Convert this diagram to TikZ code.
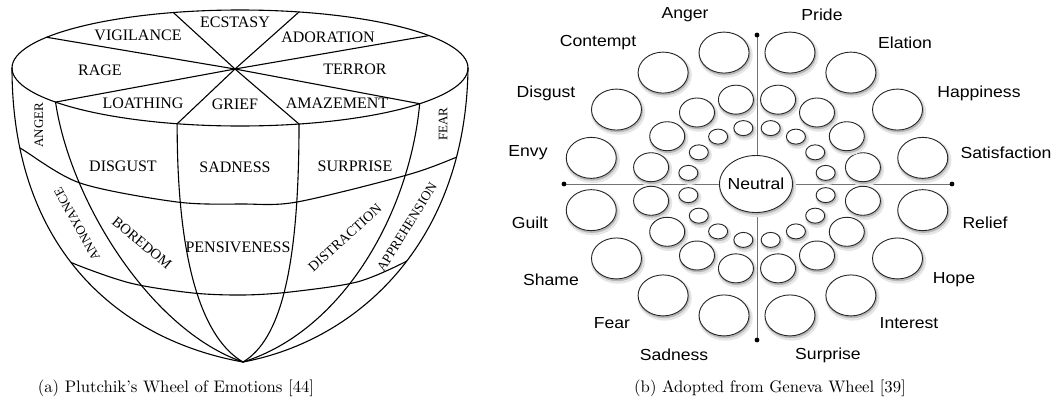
\documentclass[tikz,border=0pt]{standalone}
\usepackage{fontspec}
\usepackage{graphicx}
\newfontfamily\lserif{Liberation Serif}
\newfontfamily\lsans{Liberation Sans}
\newcommand{\sx}[1]{\scalebox{1.1}[1]{#1}}
\newcommand{\capt}[1]{\scalebox{1.67}{\fontsize{10}{12}\selectfont #1}}
\newcommand{\bub}[4]{%
  \fill[black!10] ({#1+1.5},{#2+2.5}) ellipse [x radius=#3+2.2, y radius=#4+2.2];
  \fill[black!28] ({#1+0.8},{#2+1.6}) ellipse [x radius=#3+0.7, y radius=#4+0.7];
  \filldraw[fill=white, draw=black!85, line width=0.9pt] (#1,#2) ellipse [x radius=#3, y radius=#4];}
\begin{document}
\begin{tikzpicture}[x=1pt,y=-1pt,line cap=round,line join=round,
  rim/.style={line width=1.1pt,black},
  lab/.style={font=\lserif\fontsize{16}{16}\selectfont,inner sep=0pt},
  rlab/.style={font=\lsans\fontsize{16}{18}\selectfont,inner sep=0pt},
  axisline/.style={draw=black!55,line width=0.9pt},
  captext/.style={inner sep=0pt}]
\useasboundingbox (0,0) rectangle (1052,410);
\fill[white] (0,0) rectangle (1052,410);

%% ---------------- left: Plutchik ----------------
\coordinate (hub) at (235,69);
\coordinate (bot) at (243,362);
\draw[rim] (240,68) ellipse [x radius=228, y radius=58];
\foreach \t in {34,75,107,148,216,254,285,322}
  \draw[rim] (hub) -- ({240+228*cos(\t)},{68-58*sin(\t)});
\coordinate (pL) at (12,68);
\coordinate (pR) at (468,68);
\coordinate (p216) at ({240+228*cos(216)},{68-58*sin(216)});
\coordinate (p254) at ({240+228*cos(254)},{68-58*sin(254)});
\coordinate (p285) at ({240+228*cos(285)},{68-58*sin(285)});
\coordinate (p322) at ({240+228*cos(322)},{68-58*sin(322)});
\draw[rim] (pL) .. controls (12,250) and (120,340) .. (bot);
\draw[rim] (p216) .. controls (70,200) and (150,330) .. (bot);
\draw[rim] (p254) .. controls (177,270) and (205,340) .. (bot);
\draw[rim] (p285) .. controls (299,270) and (280,340) .. (bot);
\draw[rim] (p322) .. controls (410,210) and (345,330) .. (bot);
\draw[rim] (pR) .. controls (466,240) and (360,340) .. (bot);
\begin{scope}
  \clip (pL) .. controls (12,250) and (120,340) .. (bot) .. controls (360,340) and (466,240) .. (pR) -- (470,0) -- (10,0) -- cycle;
  \draw[rim] plot[smooth] coordinates {(0,138) (20,148) (80,183) (177,202) (243,204) (297,202) (407,175) (457,157) (480,146)};
  \draw[rim] plot[smooth] coordinates {(50,248) (70,262) (130,283) (193,293) (243,295) (290,292) (357,282) (405,262) (425,248)};
\end{scope}

\node[lab] (ecstasy) at (235,22) {ECSTASY};
\node[lab] (vigilance) at (138,35) {VIGILANCE};
\node[lab] (adoration) at (328,37) {ADORATION};
\node[lab] (rage) at (100,70) {RAGE};
\node[lab] (terror) at (355,69) {TERROR};
\node[lab] (loathing) at (143,103) {LOATHING};
\node[lab] (grief) at (235,104) {GRIEF};
\node[lab] (amazement) at (337,103) {AMAZEMENT};
\node[lab,font=\lserif\fontsize{13}{13}\selectfont,rotate=90] (angerL) at (39,125) {ANGER};
\node[lab,font=\lserif\fontsize{13}{13}\selectfont,rotate=90] (fearL) at (443,124) {FEAR};
\node[lab] (disgustL) at (123,166) {DISGUST};
\node[lab] (sadnessL) at (235,167) {SADNESS};
\node[lab] (surpriseL) at (355,166) {SURPRISE};
\node[lab,font=\lserif\fontsize{13}{13}\selectfont,rotate=119] (annoyance) at (77,224) {ANNOYANCE};
\node[lab,font=\lserif\fontsize{14.5}{14.5}\selectfont,rotate=-40] (boredom) at (142,243) {BOREDOM};
\node[lab] (pensiveness) at (238,247) {PENSIVENESS};
\node[lab,font=\lserif\fontsize{14}{14}\selectfont,rotate=42] (distraction) at (345,238) {DISTRACTION};
\node[lab,font=\lserif\fontsize{13.5}{13.5}\selectfont,rotate=58] (apprehension) at (407,227) {APPREHENSION};

%% ---------------- right: Geneva ----------------
\coordinate (C) at (757,184);
\coordinate (aT) at (757,35);
\coordinate (aB) at (757,340);
\coordinate (aL) at (564,184);
\coordinate (aR) at (952,184);
\draw[axisline] (aT) -- (aB);
\draw[axisline] (aL) -- (aR);
\foreach \p in {aT,aB,aL,aR} \fill[black] (\p) circle (2.4);

\foreach \a/\b/\rx/\ry in {169/134/25/20.5, 108/86/17.5/14.5, 70/57/9.5/7.5}{
  \foreach \k in {0,...,15}{
    \pgfmathsetmacro{\px}{757+\a*cos(11.25+22.5*\k)}
    \pgfmathsetmacro{\py}{184-\b*sin(11.25+22.5*\k)}
    \bub{\px}{\py}{\rx}{\ry}
  }
}
\bub{756}{184}{36.5}{28.5}
\node[rlab] (neutral) at (756,184) {\sx{Neutral}};

\node[rlab] (anger) at (685,15) {\sx{Anger}};
\node[rlab] (pride) at (822,15) {\sx{Pride}};
\node[rlab] (contempt) at (598,43) {\sx{Contempt}};
\node[rlab] (elation) at (905,43) {\sx{Elation}};
\node[rlab] (disgust) at (546,93) {\sx{Disgust}};
\node[rlab] (happiness) at (979,93) {\sx{Happiness}};
\node[rlab] (envy) at (528,153) {\sx{Envy}};
\node[rlab] (satisfaction) at (1006,153) {\sx{Satisfaction}};
\node[rlab] (guilt) at (530,223) {\sx{Guilt}};
\node[rlab] (relief) at (985,223) {\sx{Relief}};
\node[rlab] (shame) at (551,280) {\sx{Shame}};
\node[rlab] (hope) at (954,280) {\sx{Hope}};
\node[rlab] (fear) at (612,323) {\sx{Fear}};
\node[rlab] (interest) at (909,323) {\sx{Interest}};
\node[rlab] (sadness) at (674,355) {\sx{Sadness}};
\node[rlab] (surprise) at (828,355) {\sx{Surprise}};

%% captions
\node[captext] (capa) at (176,388) {\capt{(a) Plutchik's Wheel of Emotions [44]}};
\node[captext] (capb) at (770,388) {\capt{(b) Adopted from Geneva Wheel [39]}};
\end{tikzpicture}
\end{document}
